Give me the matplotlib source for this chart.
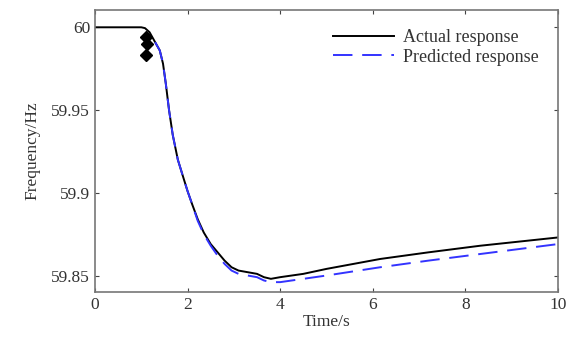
import matplotlib.pyplot as plt
from matplotlib.ticker import FuncFormatter

plt.rcParams['font.family'] = ['Liberation Serif', 'DejaVu Serif']

t_actual = [0.0, 1.0, 1.08, 1.18, 1.30, 1.40, 1.47, 1.53, 1.60, 1.68, 1.79, 1.90,
            2.00, 2.10, 2.22, 2.35, 2.50, 2.65, 2.80, 2.95, 3.10, 3.30, 3.50,
            3.65, 3.80, 4.0, 4.5, 5.0, 6.16, 7.2, 8.32, 10.0]
f_actual = [60.0, 60.0, 59.9995, 59.997, 59.991, 59.986, 59.978, 59.966, 59.950,
            59.935, 59.920, 59.910, 59.901, 59.893, 59.884, 59.876, 59.869,
            59.864, 59.859, 59.855, 59.853, 59.852, 59.851, 59.849, 59.848,
            59.849, 59.851, 59.854, 59.860, 59.864, 59.868, 59.873]

# Respuesta predicha
t_pred = [1.30, 1.40, 1.47, 1.53, 1.60, 1.68, 1.79, 1.90, 2.00, 2.10, 2.22, 2.35,
          2.50, 2.65, 2.80, 2.95, 3.10, 3.30, 3.50, 3.65, 3.80, 4.0, 4.5, 5.0,
          6.16, 7.2, 8.32, 10.0]
f_pred = [59.991, 59.986, 59.978, 59.966, 59.950, 59.935, 59.920, 59.910, 59.901,
          59.893, 59.883, 59.875, 59.868, 59.862, 59.857, 59.853, 59.851, 59.850,
          59.849, 59.847, 59.846, 59.846, 59.848, 59.850, 59.855, 59.859,
          59.863, 59.869]

# Marcadores de rombo
t_marks = [1.10, 1.12, 1.10]
f_marks = [59.994, 59.990, 59.983]

fig = plt.figure(figsize=(5.72, 3.42), dpi=100)
ax = fig.add_axes([0.166, 0.146, 0.8095, 0.825])

ax.plot(t_actual, f_actual, color="black", lw=1.4, label="Actual response")
ax.plot(t_pred, f_pred, color="#3333ff", lw=1.4, dashes=(10, 5), label="Predicted response")
ax.plot(t_marks, f_marks, "D", color="black", ms=6.5, ls="none")

ax.set_xlim(0, 10)
ax.set_ylim(59.840, 60.0105)
ax.set_xticks([0, 2, 4, 6, 8, 10])
ax.set_yticks([59.85, 59.9, 59.95, 60.0])
ax.yaxis.set_major_formatter(FuncFormatter(lambda v, p: f"{v:.2f}".rstrip("0").rstrip(".")))

ax.tick_params(direction="in", top=True, right=True, length=3, width=0.8,
               labelsize=12.5, colors="#444444", labelcolor="#333333")
for s in ax.spines.values():
    s.set_color("#777777")
    s.set_linewidth(1.2)

ax.set_xlabel("Time/s", fontsize=12.5, color="#333333", labelpad=1)
ax.set_ylabel("Frequency/Hz", fontsize=12.5, color="#333333", labelpad=8)

leg = ax.legend(loc="upper right", frameon=False, fontsize=13, handlelength=3.4,
                borderaxespad=0.65, labelspacing=0.15, handletextpad=0.5)
for txt in leg.get_texts():
    txt.set_color("#333333")

fig.savefig("out.png", dpi=100)
